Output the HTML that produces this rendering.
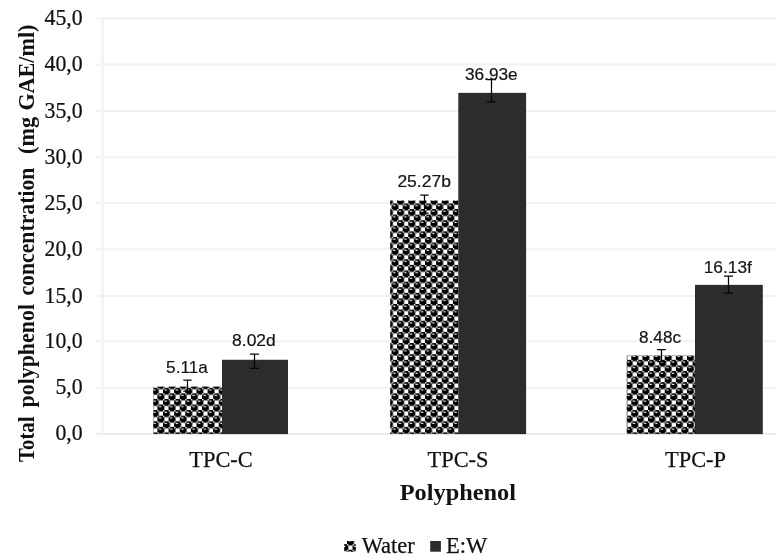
<!DOCTYPE html>
<html><head><meta charset="utf-8"><title>chart</title>
<style>html,body{margin:0;padding:0;background:#fff;}svg{display:block;will-change:transform;}</style>
</head><body>
<svg width="776" height="560" viewBox="0 0 776 560">
<defs><pattern id="sph" patternUnits="userSpaceOnUse" x="1.3" y="2.4" width="11.15" height="11.17"><rect x="-1" y="-1" width="13.15" height="13.17" fill="#000"/><rect x="6.969" y="1.396" width="4.181" height="4.189" fill="#fff"/><rect x="1.394" y="6.981" width="4.181" height="4.189" fill="#fff"/><rect x="0.000" y="0.000" width="1.394" height="1.396" fill="#fff"/><rect x="5.575" y="0.000" width="1.394" height="1.396" fill="#fff"/><rect x="0.000" y="5.585" width="1.394" height="1.396" fill="#fff"/><rect x="5.575" y="5.585" width="1.394" height="1.396" fill="#fff"/><rect x="1.533" y="1.606" width="2.439" height="1.117" fill="#fff"/><rect x="7.108" y="7.191" width="2.439" height="1.117" fill="#fff"/></pattern></defs>
<rect width="776" height="560" fill="#fff"/>
<line x1="96.0" y1="433.80" x2="776" y2="433.80" stroke="#eaeaea" stroke-width="1.7"/>
<line x1="96.0" y1="387.70" x2="776" y2="387.70" stroke="#f2f2f2" stroke-width="2.0"/>
<line x1="96.0" y1="341.30" x2="776" y2="341.30" stroke="#f2f2f2" stroke-width="2.0"/>
<line x1="96.0" y1="295.90" x2="776" y2="295.90" stroke="#f2f2f2" stroke-width="2.0"/>
<line x1="96.0" y1="249.20" x2="776" y2="249.20" stroke="#f2f2f2" stroke-width="2.0"/>
<line x1="96.0" y1="202.90" x2="776" y2="202.90" stroke="#f2f2f2" stroke-width="2.0"/>
<line x1="96.0" y1="157.20" x2="776" y2="157.20" stroke="#f2f2f2" stroke-width="2.0"/>
<line x1="96.0" y1="111.00" x2="776" y2="111.00" stroke="#f2f2f2" stroke-width="2.0"/>
<line x1="96.0" y1="64.40" x2="776" y2="64.40" stroke="#f2f2f2" stroke-width="2.0"/>
<line x1="96.0" y1="18.40" x2="776" y2="18.40" stroke="#f2f2f2" stroke-width="2.0"/>
<line x1="102.5" y1="17.4" x2="102.5" y2="433.8" stroke="#f3f3f3" stroke-width="2.8"/>
<g transform="translate(82.7,0) scale(0.915,1)" font-family="Liberation Serif, serif" font-size="23.8" fill="#111" stroke="#111" stroke-width="0.25" text-anchor="end">
<text x="0" y="440.50">0,0</text>
<text x="0" y="394.40">5,0</text>
<text x="0" y="348.00">10,0</text>
<text x="0" y="302.60">15,0</text>
<text x="0" y="255.90">20,0</text>
<text x="0" y="209.60">25,0</text>
<text x="0" y="163.90">30,0</text>
<text x="0" y="117.70">35,0</text>
<text x="0" y="71.10">40,0</text>
<text x="0" y="25.10">45,0</text>
</g>
<rect x="153.20" y="386.62" width="68.80" height="47.48" fill="url(#sph)"/>
<rect x="222.00" y="359.76" width="66.00" height="74.34" fill="#2c2c2c"/>
<rect x="390.20" y="200.51" width="68.10" height="233.59" fill="url(#sph)"/>
<rect x="458.30" y="92.86" width="67.80" height="341.24" fill="#2c2c2c"/>
<rect x="626.70" y="355.51" width="68.30" height="78.59" fill="url(#sph)"/>
<rect x="695.00" y="284.89" width="67.80" height="149.21" fill="#2c2c2c"/>
<path d="M183.30 380.20H191.70M183.30 391.00H191.70M187.50 380.20V391.00" stroke="#060606" stroke-width="1.25" fill="none"/>
<path d="M249.90 354.00H259.10M249.90 368.30H259.10M254.50 354.00V368.30" stroke="#060606" stroke-width="1.25" fill="none"/>
<path d="M420.30 195.00H428.70M420.30 213.00H428.70M424.50 195.00V213.00" stroke="#060606" stroke-width="1.25" fill="none"/>
<path d="M486.80 79.60H496.20M486.80 101.80H496.20M491.50 79.60V101.80" stroke="#060606" stroke-width="1.25" fill="none"/>
<path d="M657.10 349.50H665.90M657.10 361.60H665.90M661.50 349.50V361.60" stroke="#060606" stroke-width="1.25" fill="none"/>
<path d="M724.00 276.10H733.00M724.00 293.00H733.00M728.50 276.10V293.00" stroke="#060606" stroke-width="1.25" fill="none"/>
<g font-family="Liberation Sans, sans-serif" font-size="16.2" fill="#151515" stroke="#151515" stroke-width="0.2" text-anchor="middle">
<text x="186.95" y="372.90" textLength="41.70" lengthAdjust="spacingAndGlyphs">5.11a</text>
<text x="253.95" y="346.20" textLength="43.70" lengthAdjust="spacingAndGlyphs">8.02d</text>
<text x="424.15" y="187.10" textLength="53.50" lengthAdjust="spacingAndGlyphs">25.27b</text>
<text x="491.30" y="80.10" textLength="52.80" lengthAdjust="spacingAndGlyphs">36.93e</text>
<text x="660.05" y="342.60" textLength="41.90" lengthAdjust="spacingAndGlyphs">8.48c</text>
<text x="727.80" y="272.50" textLength="48.20" lengthAdjust="spacingAndGlyphs">16.13f</text>
</g>
<g font-family="Liberation Serif, serif" font-size="22.35" fill="#111" stroke="#111" stroke-width="0.25" text-anchor="middle">
<text x="221.0" y="467.2">TPC-C</text>
<text x="458.0" y="467.2">TPC-S</text>
<text x="695.5" y="467.2">TPC-P</text>
</g>
<text x="457.9" y="499.5" text-anchor="middle" font-family="Liberation Serif, serif" font-weight="bold" font-size="23.2" textLength="116.3" lengthAdjust="spacingAndGlyphs" fill="#111">Polyphenol</text>
<g transform="translate(34.1,0) rotate(-90)" font-family="Liberation Serif, serif" font-weight="bold" font-size="24.1" fill="#111">
<text x="-462.00" y="0" textLength="45.50" lengthAdjust="spacingAndGlyphs">Total</text>
<text x="-407.50" y="0" textLength="103.50" lengthAdjust="spacingAndGlyphs">polyphenol</text>
<text x="-295.60" y="0" textLength="128.00" lengthAdjust="spacingAndGlyphs">concentration</text>
<text x="-154.00" y="0" textLength="37.00" lengthAdjust="spacingAndGlyphs">(mg</text>
<text x="-110.60" y="0" textLength="86.00" lengthAdjust="spacingAndGlyphs">GAE/ml)</text>
</g>
<rect x="344.2" y="541" width="11.6" height="10.8" fill="url(#sph)"/>
<rect x="430.2" y="541.0" width="10.7" height="10.7" fill="#2c2c2c"/>
<g font-family="Liberation Serif, serif" font-size="22.5" fill="#111" stroke="#111" stroke-width="0.25">
<text x="361.7" y="552.9">Water</text>
<text x="446.0" y="552.9">E:W</text>
</g>
</svg>
</body></html>
